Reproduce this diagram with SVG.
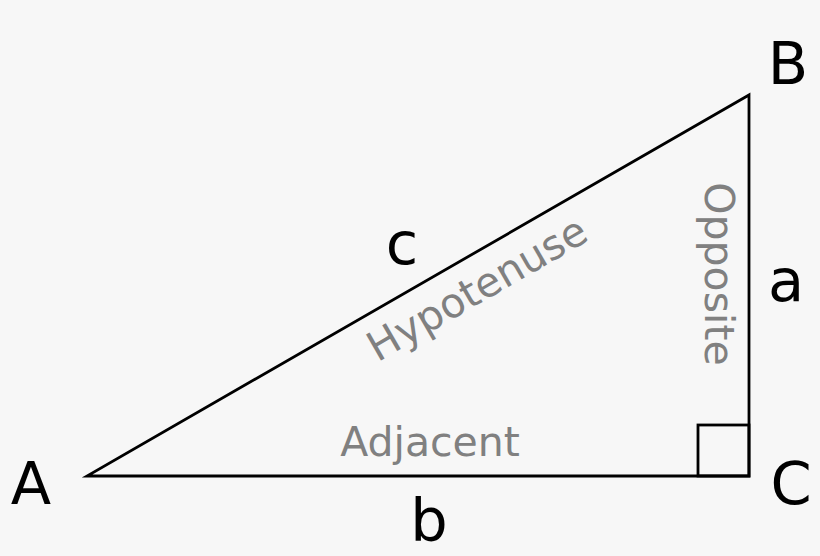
<svg xmlns="http://www.w3.org/2000/svg" width="820" height="556" viewBox="0 0 820 556">
<style>
.ln{fill:none;stroke:#000;stroke-width:2.8;stroke-linejoin:miter}
.v{font-family:"DejaVu Sans",sans-serif;font-size:59px;fill:#000;text-anchor:middle}
.g{font-family:"DejaVu Sans",sans-serif;font-size:41px;fill:#808080;text-anchor:middle}
</style>
<rect width="820" height="556" fill="#f7f7f7"/>
<g id="triangle">
<polygon class="ln" points="87,476 749,476 749,95"/>
<rect class="ln" x="698" y="425" width="51" height="51"/>
</g>
<g id="vertices">
<text class="v" x="31" y="504">A</text>
<text class="v" x="788" y="84">B</text>
<text class="v" x="791" y="504">C</text>
</g>
<g id="sides">
<text class="v" x="402" y="264">c</text>
<text class="v" x="786" y="301">a</text>
<text class="v" x="429" y="541">b</text>
</g>
<g id="names">
<text class="g" transform="translate(484,301) rotate(-30)">Hypotenuse</text>
<text class="g" transform="translate(705,274) rotate(90)">Opposite</text>
<text class="g" x="430" y="456">Adjacent</text>
</g>
</svg>
